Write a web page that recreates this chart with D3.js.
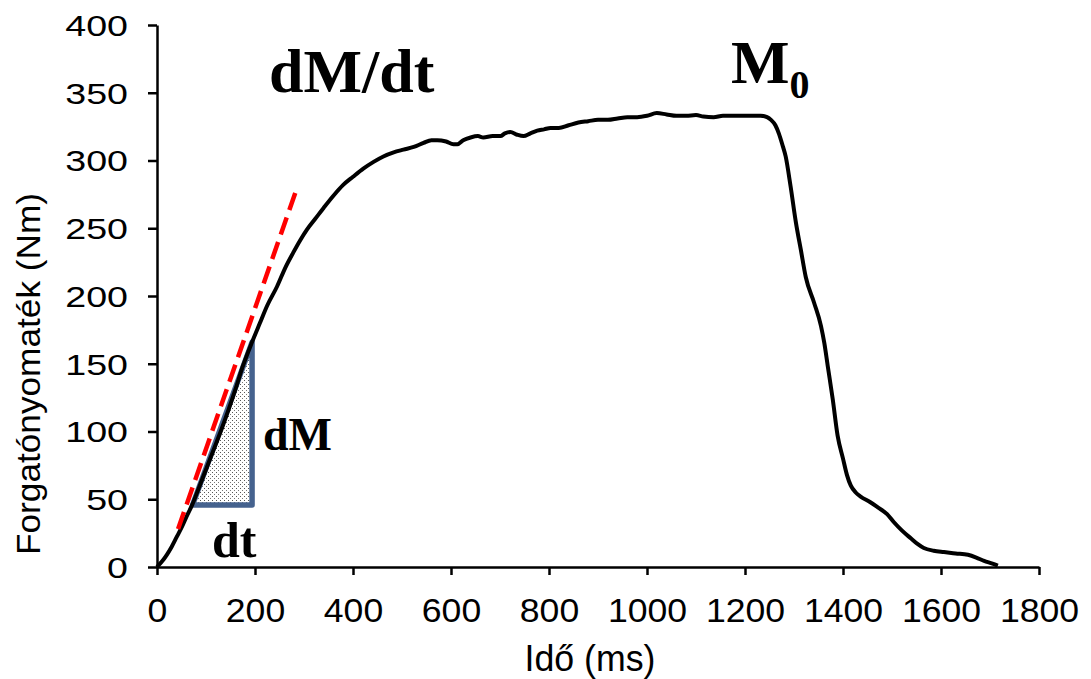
<!DOCTYPE html>
<html>
<head>
<meta charset="utf-8">
<script src="https://cdn.jsdelivr.net/npm/d3@7"></script>
<style>
  body { margin: 0; background: #fff; }
  svg { display: block; }
</style>
</head>
<body>
<div id="chart"></div>
<script>
// torque curve (ms, Nm)
var timeMs = [0, 10, 20, 30, 40, 50, 60, 72, 85, 100, 115, 130, 145, 160, 175, 194,
  210, 225, 245, 262, 278, 292, 306, 323, 340, 360, 380, 400, 421, 442, 462, 483,
  503, 524, 544, 560, 572, 590, 605, 613, 625, 640, 655, 666, 685, 701, 710, 721,
  735, 748, 762, 776, 790, 803, 820, 840, 860, 880, 900, 920, 940, 960, 980, 1000,
  1020, 1040, 1060, 1080, 1100, 1115, 1136, 1155, 1177, 1200, 1232, 1245, 1253,
  1262, 1269, 1276, 1283, 1293, 1304, 1314, 1324, 1341, 1355, 1362, 1369, 1379,
  1389, 1400, 1408, 1416, 1426, 1436, 1455, 1471, 1490, 1504, 1520, 1539, 1552,
  1565, 1585, 1606, 1630, 1655, 1672, 1688, 1705, 1716];
var torqueNm = [0, 4, 9, 15, 22, 29, 37, 46, 58, 72, 86, 100, 115, 131, 148, 166,
  180, 193, 207, 221, 232, 241, 249, 257, 265, 274, 282, 288, 294, 299, 303, 306,
  308, 310, 313, 315, 315, 314, 312, 312, 315, 317, 318, 317, 318, 318, 320, 321,
  319, 318, 320, 322, 323, 324, 324, 326, 328, 329, 330, 330, 331, 332, 332, 333,
  335, 334, 333, 333, 333.5, 332.5, 332, 333, 333, 333, 333, 332, 330,
  326, 320, 312, 303, 281, 254, 234, 214, 195, 178, 165, 148, 124,
  97, 80, 68, 60, 55, 52, 48, 44, 39, 33, 27, 21, 17,
  14, 12, 11, 10, 9, 7, 4.5, 2.5, 1];

// tangent (dM/dt) and the dt / dM triangle
var tangentT = [43, 284];
var tangentM = [28, 278];
var triT = [72.5, 194, 194];
var triM = [45.7, 45.7, 166];

var xTicks = [0, 200, 400, 600, 800, 1000, 1200, 1400, 1600, 1800];
var yTicks = [0, 50, 100, 150, 200, 250, 300, 350, 400];

var width = 1091, height = 679;

var svg = d3.select("#chart").append("svg")
  .attr("width", width)
  .attr("height", height);

var x = d3.scaleLinear().domain([0, 1800]).range([157, 1039]);
var y = d3.scaleLinear().domain([0, 400]).range([567, 25]);

// stipple fill for the triangle
var defs = svg.append("defs");
var pat = defs.append("pattern")
  .attr("id", "dots")
  .attr("width", 4).attr("height", 4)
  .attr("patternUnits", "userSpaceOnUse");
pat.append("rect").attr("width", 4).attr("height", 4).attr("fill", "#fff");
pat.append("rect").attr("x", 0).attr("y", 0).attr("width", 1).attr("height", 1).attr("fill", "#555");
pat.append("rect").attr("x", 2).attr("y", 2).attr("width", 1).attr("height", 1).attr("fill", "#777");

// axes
var xAxis = svg.append("g")
  .attr("transform", "translate(0," + y(0) + ")")
  .call(d3.axisBottom(x).tickValues(xTicks).tickSizeInner(8).tickSizeOuter(0).tickFormat(d3.format("d")));
var yAxis = svg.append("g")
  .attr("transform", "translate(" + x(0) + ",0)")
  .call(d3.axisLeft(y).tickValues(yTicks).tickSizeInner(9).tickSizeOuter(0).tickFormat(d3.format("d")));

[xAxis, yAxis].forEach(function(ax) {
  ax.select(".domain").attr("stroke", "#000").attr("stroke-width", 2.5);
  ax.selectAll(".tick line").attr("stroke", "#000").attr("stroke-width", 2.5);
});

xAxis.selectAll(".tick text")
  .attr("font-family", "'Liberation Sans', Arial, sans-serif")
  .attr("font-size", 34)
  .attr("fill", "#000")
  .attr("y", 55)
  .attr("dy", null)
  .attr("textLength", d => String(d).length * 19.8)
  .attr("lengthAdjust", "spacingAndGlyphs");

yAxis.selectAll(".tick text")
  .attr("font-family", "'Liberation Sans', Arial, sans-serif")
  .attr("font-size", 29)
  .attr("fill", "#000")
  .attr("x", -29)
  .attr("dy", "0.36em")
  .attr("textLength", d => String(d).length * 20.9)
  .attr("lengthAdjust", "spacingAndGlyphs");

// triangle
var tri = triT.map((t, i) => [x(t), y(triM[i])]);
svg.append("polygon")
  .attr("points", tri.map(p => p.join(",")).join(" "))
  .attr("fill", "url(#dots)")
  .attr("stroke", "#45628e")
  .attr("stroke-width", 5.5)
  .attr("stroke-linejoin", "round");

// torque curve
var line = d3.line()
  .x(d => x(d[0]))
  .y(d => y(d[1]))
  .curve(d3.curveMonotoneX);

svg.append("path")
  .datum(timeMs.map((t, i) => [t, torqueNm[i]]))
  .attr("d", line)
  .attr("fill", "none")
  .attr("stroke", "#000")
  .attr("stroke-width", 4)
  .attr("stroke-linejoin", "round");

// tangent
svg.append("line")
  .attr("x1", x(tangentT[0])).attr("y1", y(tangentM[0]))
  .attr("x2", x(tangentT[1])).attr("y2", y(tangentM[1]))
  .attr("stroke", "#ff0000")
  .attr("stroke-width", 4.5)
  .attr("stroke-dasharray", "18,8");

// axis titles
svg.append("text")
  .attr("x", 590).attr("y", 671)
  .attr("text-anchor", "middle")
  .attr("font-family", "'Liberation Sans', Arial, sans-serif")
  .attr("font-size", 36)
  .attr("textLength", 131)
  .attr("lengthAdjust", "spacingAndGlyphs")
  .text("Idő (ms)");

svg.append("text")
  .attr("transform", "translate(40,374) rotate(-90)")
  .attr("text-anchor", "middle")
  .attr("font-family", "'Liberation Sans', Arial, sans-serif")
  .attr("font-size", 33)
  .attr("textLength", 362)
  .attr("lengthAdjust", "spacingAndGlyphs")
  .text("Forgatónyomaték (Nm)");

// annotations
var serif = "'Liberation Serif', 'Times New Roman', serif";
svg.append("text")
  .attr("x", 269).attr("y", 92)
  .attr("font-family", serif).attr("font-weight", "bold").attr("font-size", 62)
  .text("dM/dt");

var m0 = svg.append("text")
  .attr("x", 731).attr("y", 83)
  .attr("font-family", serif).attr("font-weight", "bold").attr("font-size", 62)
  .text("M");
m0.append("tspan")
  .attr("font-size", 40)
  .attr("dy", 15)
  .text("0");

svg.append("text")
  .attr("x", 263).attr("y", 450)
  .attr("font-family", serif).attr("font-weight", "bold").attr("font-size", 46)
  .text("dM");

svg.append("text")
  .attr("x", 212).attr("y", 557)
  .attr("font-family", serif).attr("font-weight", "bold").attr("font-size", 50)
  .text("dt");
</script>
</body>
</html>
